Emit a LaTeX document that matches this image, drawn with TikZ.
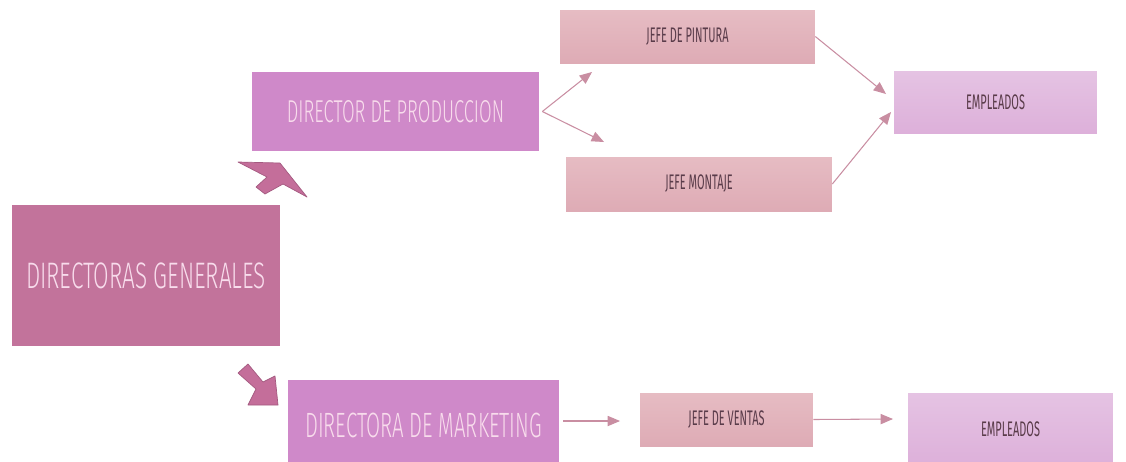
\documentclass[tikz,border=0pt]{standalone}
\usepackage{fontspec}
\usepackage{tikz}
\usetikzlibrary{calc,arrows,positioning}
\newfontfamily\titlefont{Fira Sans Light}[FakeStretch=0.58]
\newfontfamily\widetitlefont{Fira Sans Light}[FakeStretch=0.61]
\newfontfamily\labelfont{Fira Sans}[FakeStretch=0.52]
\definecolor{generalcol}{HTML}{C2739B}
\definecolor{dircol}{HTML}{CF89C9}
\definecolor{jefetop}{HTML}{E6BCC3}
\definecolor{jefebot}{HTML}{DEABB5}
\definecolor{emptop}{HTML}{E5C3E3}
\definecolor{empbot}{HTML}{DDB0DA}
\definecolor{titletext}{HTML}{F8DCEC}
\definecolor{labeltext}{HTML}{5A3C4A}
\definecolor{linecol}{HTML}{C98EA2}
\definecolor{blockcol}{HTML}{C46E9A}
\definecolor{blockedge}{HTML}{A45A80}

\begin{document}
\begin{tikzpicture}[x=0.02cm,y=-0.02cm]

\tikzset{generalnode/.style={fill=generalcol,text=titletext,inner sep=0pt,minimum width=5.36cm,minimum height=2.82cm,font=\widetitlefont\fontsize{21}{22}\selectfont},
dirnode/.style={fill=dircol,text=titletext,inner sep=0pt,minimum height=1.58cm,font=\titlefont\fontsize{18}{20}\selectfont},
jefenode/.style={top color=jefetop,bottom color=jefebot,text=labeltext,inner sep=0pt,minimum height=1.06cm,font=\labelfont\fontsize{12}{14}\selectfont},
empnode/.style={top color=emptop,bottom color=empbot,text=labeltext,inner sep=0pt,font=\labelfont\fontsize{12}{14}\selectfont},
flecha/.style={draw=linecol,line width=0.6pt,-triangle 45},
bigarrow/.style={fill=blockcol,draw=blockedge,line width=0.4pt,line join=round}}

\useasboundingbox (0,0) rectangle (1126,461);

% Boxes
\node[generalnode] (generales) at (146,275.5) {DIRECTORAS GENERALES};
\node[dirnode,minimum width=5.74cm] (produccion) at (395.5,111.5) {DIRECTOR DE PRODUCCION};
\node[dirnode,minimum width=5.42cm,minimum height=1.8cm,font=\titlefont\fontsize{20}{22}\selectfont] (marketing) at (423.5,425) {DIRECTORA DE MARKETING};
\node[jefenode,minimum width=5.1cm] (pintura) at (687.5,36.5) {JEFE DE PINTURA};
\node[jefenode,minimum width=5.32cm,minimum height=1.08cm] (montaje) at (699,184) {JEFE MONTAJE};
\node[jefenode,minimum width=3.46cm] (ventas) at (726.5,419.5) {JEFE DE VENTAS};
\node[empnode,minimum width=4.06cm,minimum height=1.24cm] (empleadosA) at (995.5,102) {EMPLEADOS};
\node[empnode,minimum width=4.1cm,minimum height=1.44cm] (empleadosB) at (1010.5,429) {EMPLEADOS};

% Block arrows
\draw[bigarrow] (238,162) -- (280,163) -- (307,197) -- (283,184) -- (265,194) -- (256,187) -- (267,177) -- cycle;
\draw[bigarrow] (248,364) -- (238,373) -- (256,389) -- (248,405) -- (278,405) -- (275,376) -- (263,382) -- cycle;

% Arrow ends
\coordinate (pintEnd) at (592,72);
\coordinate (montEnd) at (604,142);
\coordinate (empAin) at (886,94);
\coordinate (empAin2) at (891,112);
\coordinate (ventEnd) at (620,421);
\coordinate (empBin) at (893,419);

% Thin arrows
\draw[flecha] ($(produccion.east)+(3,0)$) -- (pintEnd);
\draw[flecha] ($(produccion.east)+(3,0)$) -- (montEnd);
\draw[flecha] (pintura.east) -- (empAin);
\draw[flecha] (montaje.east) -- (empAin2);
\draw[flecha] ($(marketing.east)+(4,-4)$) -- (ventEnd);
\draw[flecha] (ventas.east) -- (empBin);

\end{tikzpicture}
\end{document}
